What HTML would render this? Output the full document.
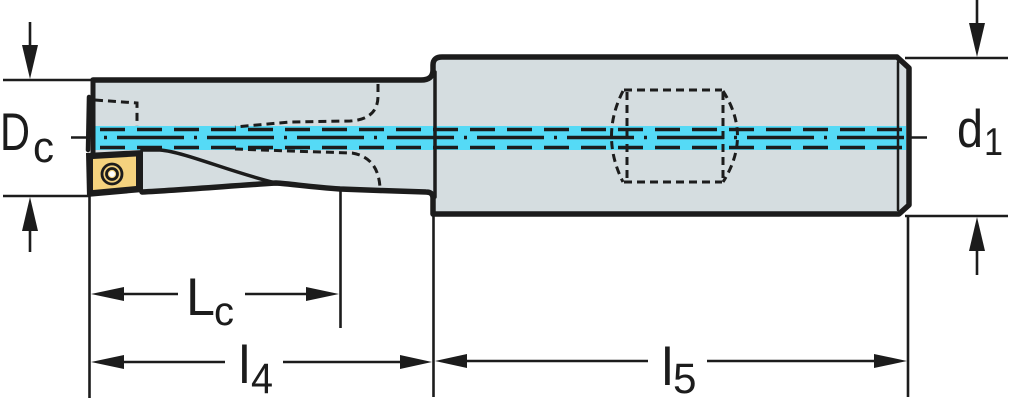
<!DOCTYPE html>
<html><head><meta charset="utf-8"><style>
html,body{margin:0;padding:0;background:#fff;}
svg{display:block;}
text{font-family:"Liberation Sans",sans-serif;fill:#1c1c1c;}
</style></head><body>
<svg width="1024" height="408" viewBox="0 0 1024 408" xmlns="http://www.w3.org/2000/svg">
<!-- body fill -->
<path d="M93,80 L421,80 Q433,80 433,70 L433,65 Q433,57 442,57 L897,57 L909,68 L909,205 L899,214 L433,214 L433,198 Q433,192 426,192 L380,190.5 L340,189 C310,187 292,184 276,183 C230,186 180,190 142,192 L93,192 Z" fill="#d5dde0"/>
<!-- cyan coolant band -->
<rect x="95" y="126" width="811" height="24" fill="#55daf6"/>
<g stroke="#1c1c1c" stroke-width="3.5" fill="none">
<line x1="95" y1="129.5" x2="906" y2="129.5" stroke-dasharray="25 12" stroke-dashoffset="-5"/>
<line x1="95" y1="147.5" x2="906" y2="147.5" stroke-dasharray="25 12" stroke-dashoffset="-5"/>
<line x1="95" y1="137.5" x2="906" y2="137.5" stroke-dasharray="67 10 3 10" stroke-dashoffset="-22"/>
</g>
<!-- hidden lines -->
<g stroke="#1c1c1c" stroke-width="3" fill="none" stroke-dasharray="8 5">
<path d="M95,100 L137,103 L137,126"/>
<path d="M378,84 L378,96 C378,112 368,120 350,121 L290,122 L235,127"/>
<path d="M235,149 L290,151 L352,153 C370,156 379,168 380,188"/>
<path d="M624,90 L722,90"/>
<path d="M624,182 L722,182"/>
<path d="M627,92 L627,180"/>
<path d="M723,92 L723,180"/>
<path d="M623,91 Q600,136 623,182"/>
<path d="M723,91 Q752,136 723,182"/>
</g>
<!-- outlines -->
<g stroke="#1c1c1c" fill="none" stroke-linejoin="round" stroke-linecap="round">
<path d="M93,80 L421,80 Q433,80 433,70 L433,65 Q433,57 442,57 L897,57 L909,68 L909,205 L899,214 L433,214 L433,198 Q433,192 426,192 L380,190.5 L340,189 C310,187 292,184 276,183 C230,186 180,190 142,192" stroke-width="5.5"/>
<line x1="93" y1="80" x2="93" y2="152" stroke-width="5"/>
<line x1="89" y1="97" x2="88" y2="150" stroke-width="4.5"/>
<path d="M142,150 L160,150 C185,152 230,172 276,183" stroke-width="3.5"/>
<line x1="435" y1="72" x2="435" y2="197" stroke-width="3.5"/>
<line x1="898" y1="62" x2="898" y2="210" stroke-width="2.5"/>
</g>
<!-- insert -->
<polygon points="86,153 143,150 143,192 87,197" fill="#1c1c1c"/>
<polygon points="93,159 136,156.5 136,186 93,190" fill="#f4d27e"/>
<circle cx="112" cy="174" r="10" fill="none" stroke="#1c1c1c" stroke-width="2.8"/>
<circle cx="112" cy="174" r="5.5" fill="none" stroke="#1c1c1c" stroke-width="2.8"/>
<circle cx="112" cy="174" r="3" fill="#fff"/>
<!-- dimension / extension lines -->
<g stroke="#1c1c1c" stroke-width="2.6" fill="none">
<line x1="3" y1="80" x2="91" y2="80"/>
<line x1="3" y1="196" x2="90" y2="196"/>
<line x1="89.5" y1="195" x2="89.5" y2="398"/>
<line x1="340.5" y1="190" x2="340.5" y2="328"/>
<line x1="433.5" y1="213" x2="433.5" y2="397"/>
<line x1="908" y1="215" x2="908" y2="397"/>
<line x1="905" y1="58" x2="1008" y2="58"/>
<line x1="905" y1="216" x2="1008" y2="216"/>
<line x1="71" y1="137.5" x2="88" y2="137.5"/>
<line x1="909" y1="137.5" x2="927" y2="137.5"/>
<line x1="30" y1="22" x2="30" y2="50"/>
<line x1="30" y1="228" x2="30" y2="252"/>
<line x1="977" y1="0" x2="977" y2="28"/>
<line x1="977" y1="248" x2="977" y2="275"/>
<line x1="120" y1="294" x2="178" y2="294"/>
<line x1="245" y1="294" x2="310" y2="294"/>
<line x1="120" y1="362" x2="225" y2="362"/>
<line x1="283" y1="362" x2="404" y2="362"/>
<line x1="463" y1="361" x2="648" y2="361"/>
<line x1="707" y1="361" x2="878" y2="361"/>
</g>
<g fill="#1c1c1c">
<polygon points="22,45 38,45 30,79"/>
<polygon points="30,197 22,231 38,231"/>
<polygon points="969,23 985,23 977,57"/>
<polygon points="977,217 969,251 985,251"/>
<polygon points="91,294 124,287 124,301"/>
<polygon points="306,287 306,301 339,294"/>
<polygon points="91,362 124,355 124,369"/>
<polygon points="400,355 400,369 432,362"/>
<polygon points="435,361 467,354 467,368"/>
<polygon points="874,354 874,368 907,361"/>
</g>
<!-- labels -->
<text x="0" y="150" font-size="53" textLength="30" lengthAdjust="spacingAndGlyphs">D</text>
<text x="33" y="162" font-size="44" textLength="21" lengthAdjust="spacingAndGlyphs">c</text>
<text x="957" y="147" font-size="53" textLength="26" lengthAdjust="spacingAndGlyphs">d</text>
<text x="984" y="155" font-size="39" textLength="19" lengthAdjust="spacingAndGlyphs">1</text>
<text x="186" y="315" font-size="53" textLength="29" lengthAdjust="spacingAndGlyphs">L</text>
<text x="214" y="325" font-size="41" textLength="20" lengthAdjust="spacingAndGlyphs">c</text>
<text x="238.5" y="383" font-size="53">l</text>
<text x="251" y="393" font-size="43" textLength="22" lengthAdjust="spacingAndGlyphs">4</text>
<text x="661.5" y="385" font-size="53">l</text>
<text x="673" y="393" font-size="43" textLength="23.5" lengthAdjust="spacingAndGlyphs">5</text>
</svg>
</body></html>
